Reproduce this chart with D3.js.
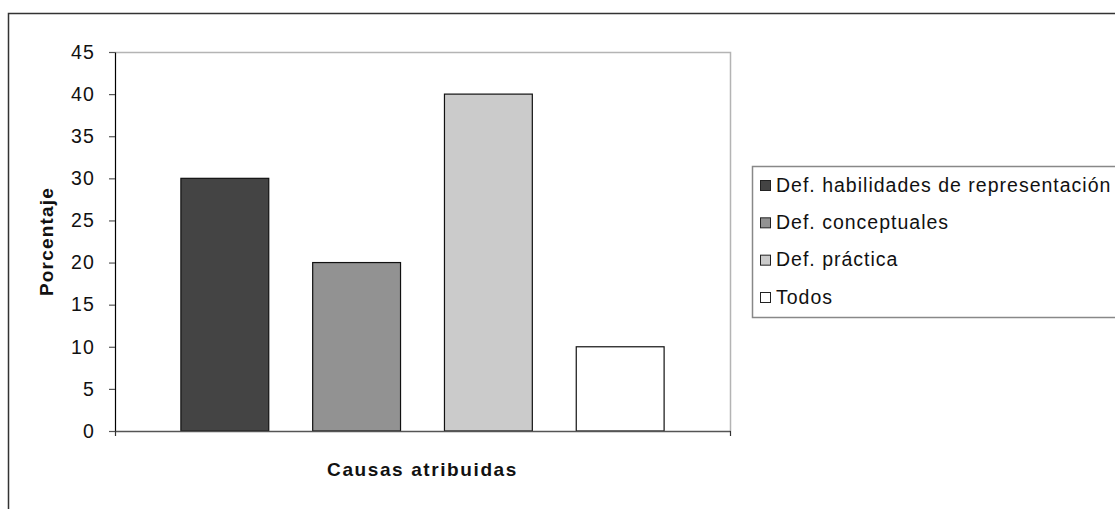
<!DOCTYPE html>
<html>
<head>
<meta charset="utf-8">
<script src="https://cdn.jsdelivr.net/npm/d3@7"></script>
<style>
  html, body { margin: 0; padding: 0; background: #fff; }
  svg { display: block; font-family: "Liberation Sans", Arial, sans-serif; }
</style>
</head>
<body>
<svg id="chart" width="1115" height="509"></svg>
<script>
// Series (one bar each) and their values in percent
const series = ["Def. habilidades de representación", "Def. conceptuales", "Def. práctica", "Todos"];
const values = [30, 20, 40, 10];
const fills = ["#444444", "#929292", "#cbcbcb", "#ffffff"];
const yTicks = [0, 5, 10, 15, 20, 25, 30, 35, 40, 45];
const yTitle = "Porcentaje";
const xTitle = "Causas atribuidas";

const FONT = "Liberation Sans, Arial, sans-serif";
const svg = d3.select("#chart");

// Outer chart frame (extends past the right and bottom edges)
svg.append("rect")
  .attr("x", 8.5).attr("y", 13.5)
  .attr("width", 1130).attr("height", 520)
  .attr("fill", "#fff").attr("stroke", "#333").attr("stroke-width", 1.5);

const plot = { left: 115, right: 730, top: 52, bottom: 431 };

const y = d3.scaleLinear().domain([0, 45]).range([plot.bottom, plot.top]);
const x = d3.scaleBand().domain(series)
  .range([plot.left, plot.right])
  .paddingInner(1 / 3).paddingOuter(0.5);

// Plot-area border (top and right)
svg.append("path")
  .attr("d", `M${plot.left},${plot.top + 0.5}H${plot.right + 0.5}V${plot.bottom}`)
  .attr("fill", "none").attr("stroke", "#b4b4b4").attr("stroke-width", 1.5);

// Bars
svg.append("g").selectAll("rect")
  .data(values)
  .join("rect")
  .attr("x", (d, i) => x(series[i]))
  .attr("y", d => y(d))
  .attr("width", x.bandwidth())
  .attr("height", d => y(0) - y(d))
  .attr("fill", (d, i) => fills[i])
  .attr("stroke", "#111").attr("stroke-width", 1.2);

// Y axis
const yAxis = svg.append("g")
  .attr("transform", `translate(${plot.left},0)`)
  .call(d3.axisLeft(y).tickValues(yTicks).tickSize(6).tickPadding(14).tickSizeOuter(0));
yAxis.attr("font-size", null).attr("font-family", null);
yAxis.select(".domain").attr("stroke", "#000").attr("stroke-width", 1.2);
yAxis.selectAll(".tick line").attr("stroke", "#555").attr("stroke-width", 1.2);
yAxis.selectAll(".tick text")
  .attr("font-size", 19.5).attr("fill", "#111")
  .attr("letter-spacing", 1.1)
  .attr("font-family", FONT);

// X axis (single category; ticks at its boundaries)
const xOuter = d3.scalePoint().domain(["a", "b"]).range([plot.left, plot.right]);
const xAxis = svg.append("g")
  .attr("transform", `translate(0,${plot.bottom})`)
  .call(d3.axisBottom(xOuter).tickSize(5).tickSizeOuter(0).tickFormat(""));
xAxis.select(".domain").attr("stroke", "#555").attr("stroke-width", 1.5);
xAxis.selectAll(".tick line").attr("stroke", "#333").attr("stroke-width", 1.2);

// Axis titles
svg.append("text")
  .attr("transform", `translate(53,${(plot.top + plot.bottom) / 2}) rotate(-90)`)
  .attr("text-anchor", "middle")
  .attr("font-size", 19).attr("font-weight", "bold").attr("fill", "#111")
  .attr("letter-spacing", 1.2)
  .text(yTitle);

svg.append("text")
  .attr("x", (plot.left + plot.right) / 2).attr("y", 476)
  .attr("text-anchor", "middle")
  .attr("font-size", 19).attr("font-weight", "bold").attr("fill", "#111")
  .attr("letter-spacing", 1.6)
  .text(xTitle);

// Legend
const legend = svg.append("g");
legend.append("rect")
  .attr("x", 752.5).attr("y", 166.5)
  .attr("width", 400).attr("height", 151)
  .attr("fill", "#fff").attr("stroke", "#888").attr("stroke-width", 1.5);

const rowY = d3.scalePoint().domain(series).range([185, 297]);
const items = legend.selectAll("g.item")
  .data(series)
  .join("g").attr("class", "item")
  .attr("transform", d => `translate(0,${rowY(d)})`);
items.append("rect")
  .attr("x", 760.5).attr("y", -4.5)
  .attr("width", 10).attr("height", 10)
  .attr("fill", (d, i) => fills[i])
  .attr("stroke", "#222").attr("stroke-width", 1);
items.append("text")
  .attr("x", 776).attr("y", 0).attr("dy", "0.35em")
  .attr("font-size", 19.5).attr("fill", "#111")
  .attr("letter-spacing", 1.0)
  .text(d => d);
</script>
</body>
</html>
